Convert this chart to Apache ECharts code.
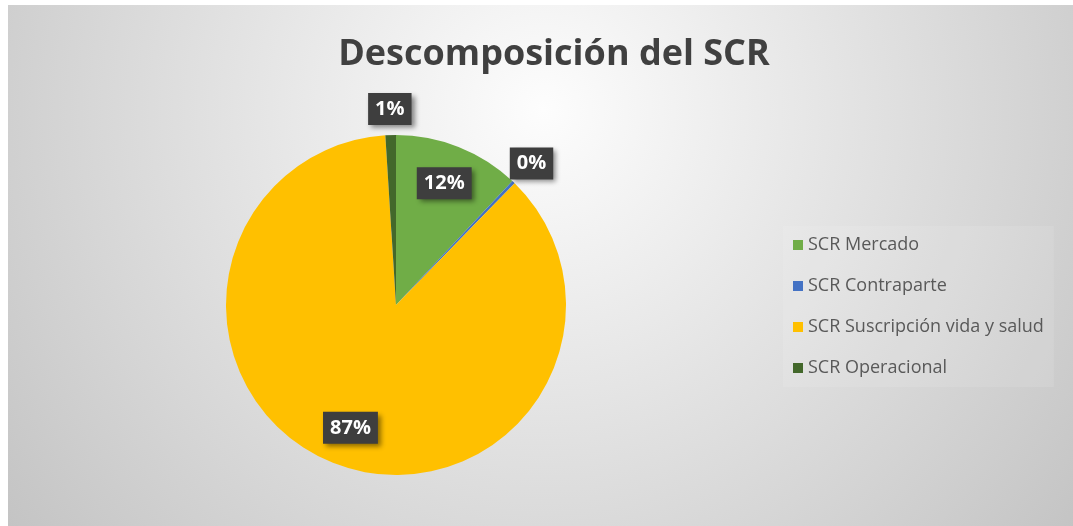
<!DOCTYPE html>
<html>
<head>
<meta charset="utf-8">
<script src="https://cdn.jsdelivr.net/npm/echarts@6/dist/echarts.min.js"></script>
<style>
    html, body { margin: 0; padding: 0; background: #ffffff; }
    #chart {
        position: absolute; left: 8px; top: 5px; width: 1065px; height: 521px;
        background: radial-gradient(circle 700px at 535px 105px, #fdfdfd 0%, #c2c2c2 100%);
    }
</style>
</head>
<body>
<div id="chart"></div>
<script>
// Data
var categories = ['SCR Mercado', 'SCR Contraparte', 'SCR Suscripción vida y salud', 'SCR Operacional'];
var values = [12.0, 0.3, 86.7, 1.0];
var colors = ['#70ad47', '#4472c4', '#ffc000', '#43682b'];
// which labels sit inside the pie and which sit just outside
var labelInside = [true, false, true, false];

var chart = echarts.init(document.getElementById('chart'));

var boxLabel = {
    color: '#ffffff',
    fontFamily: 'Open Sans',
    fontWeight: 'bold',
    fontSize: 20,
    backgroundColor: '#3e3e3e',
    padding: [7, 7, 5, 7],
    shadowColor: 'rgba(0,0,0,0.45)',
    shadowBlur: 5,
    shadowOffsetX: 3,
    shadowOffsetY: 3,
    formatter: function (p) { return Math.round(p.percent) + '%'; }
};

function labelData(inside) {
    return categories.map(function (name, i) {
        return {
            name: name,
            value: values[i],
            label: { show: labelInside[i] === inside }
        };
    });
}

var pieCenter = [388, 300];

option = {
    title: {
        text: 'Descomposición del SCR',
        left: 541,
        textAlign: 'center',
        top: 27,
        textStyle: {
            fontFamily: 'Open Sans',
            fontWeight: 'bold',
            fontSize: 36,
            color: '#404040'
        }
    },
    legend: {
        orient: 'vertical',
        left: 775,
        top: 221,
        icon: 'rect',
        itemWidth: 10,
        itemHeight: 10,
        itemGap: 19,
        padding: [8, 10, 8, 10],
        backgroundColor: 'rgba(255,255,255,0.1)',
        data: categories,
        textStyle: {
            fontFamily: 'Open Sans',
            fontSize: 18,
            lineHeight: 22,
            color: '#595959'
        }
    },
    series: [
        {
            type: 'pie',
            center: pieCenter,
            radius: 170,
            startAngle: 90,
            clockwise: true,
            silent: true,
            color: colors,
            label: { show: false },
            labelLine: { show: false },
            data: categories.map(function (name, i) {
                return { name: name, value: values[i] };
            })
        },
        {
            // carrier for the inside labels
            type: 'pie',
            center: pieCenter,
            radius: [0, 256],
            startAngle: 90,
            silent: true,
            itemStyle: { color: 'rgba(0,0,0,0)' },
            label: Object.assign({ position: 'inside' }, boxLabel),
            labelLine: { show: false },
            data: labelData(true)
        },
        {
            // carrier for the small-slice labels outside the pie
            type: 'pie',
            center: pieCenter,
            radius: [170, 216],
            startAngle: 90,
            silent: true,
            itemStyle: { color: 'rgba(0,0,0,0)' },
            label: Object.assign({ position: 'inside' }, boxLabel),
            labelLine: { show: false },
            data: labelData(false)
        }
    ]
};
chart.setOption(option);
</script>
</body>
</html>
